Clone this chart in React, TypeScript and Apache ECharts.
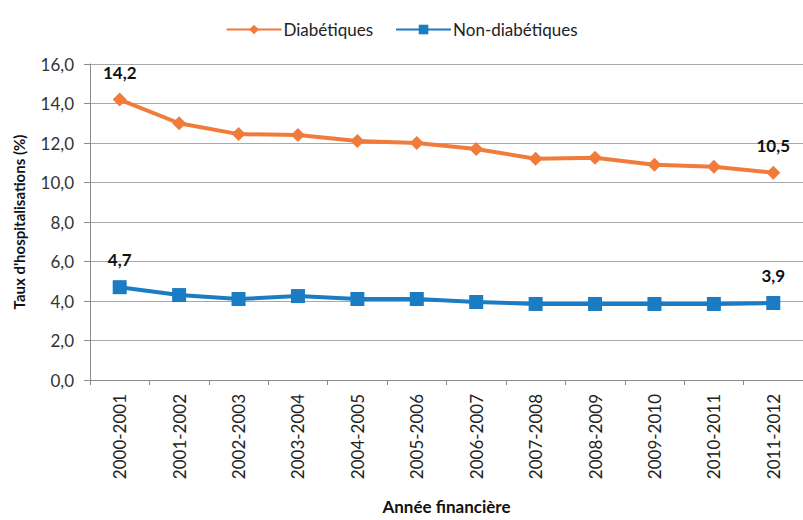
import React, { useEffect, useRef } from "react";
import * as echarts from "echarts";

const categories = [
  "2000-2001", "2001-2002", "2002-2003", "2003-2004", "2004-2005", "2005-2006",
  "2006-2007", "2007-2008", "2008-2009", "2009-2010", "2010-2011", "2011-2012",
];
const diabetiques = [14.2, 13.0, 12.45, 12.4, 12.1, 12.0, 11.7, 11.2, 11.25, 10.9, 10.8, 10.5];
const nonDiabetiques = [4.7, 4.3, 4.1, 4.25, 4.1, 4.1, 3.95, 3.85, 3.85, 3.85, 3.85, 3.9];
const yTicks = { min: 0, max: 16, interval: 2 };

const FONT = "Lato, 'Open Sans', sans-serif";
const ORANGE = "#F07B3A";
const BLUE = "#1A7CC3";

function fmt(v: number) {
  return v.toFixed(1).replace(".", ",");
}

export default function App() {
  const ref = useRef<HTMLDivElement>(null);
  useEffect(() => {
    if (!ref.current) return;
    const chart = echarts.init(ref.current, undefined, { renderer: "svg" });
    const endLabel = () => ({
      show: true,
      position: "top",
      distance: 12,
      fontFamily: FONT,
      fontWeight: "bold",
      fontSize: 17,
      color: "#111",
      formatter: (p: any) =>
        p.dataIndex === 0 || p.dataIndex === categories.length - 1 ? fmt(p.value) : "",
    });
    chart.setOption({
      animation: false,
      backgroundColor: "#fff",
      textStyle: { fontFamily: FONT },
      legend: {
        top: 16,
        left: "center",
        itemWidth: 55,
        itemHeight: 12,
        itemGap: 22,
        textStyle: { fontFamily: FONT, fontSize: 17, color: "#222", padding: [0, 0, 0, -3] },
        data: ["Diabétiques", "Non-diabétiques"],
      },
      grid: { left: 90, top: 64, width: 720, height: 328 },
      xAxis: {
        type: "category",
        data: categories,
        boundaryGap: true,
        axisLine: { show: true, lineStyle: { color: "#8a8a8a", width: 1 } },
        axisTick: { show: true, length: 5, lineStyle: { color: "#8a8a8a" } },
        axisLabel: {
          rotate: 90,
          margin: 14,
          fontFamily: FONT,
          fontSize: 17,
          color: "#222",
        },
        name: "Année financière",
        nameLocation: "middle",
        nameGap: 118,
        nameTextStyle: { fontFamily: FONT, fontWeight: "bold", fontSize: 17, color: "#111" },
      },
      yAxis: {
        type: "value",
        min: yTicks.min,
        max: yTicks.max,
        interval: yTicks.interval,
        axisLine: { show: true, lineStyle: { color: "#8a8a8a", width: 1 } },
        axisTick: { show: true, length: 6, lineStyle: { color: "#8a8a8a" } },
        splitLine: { show: true, lineStyle: { color: "#a8a8a8", width: 1.2 } },
        axisLabel: {
          margin: 16,
          fontFamily: FONT,
          fontSize: 17,
          color: "#333",
          formatter: (v: number) => fmt(v),
        },
        name: "Taux d'hospitalisations (%)",
        nameLocation: "middle",
        nameGap: 64,
        nameTextStyle: { fontFamily: FONT, fontWeight: "bold", fontSize: 15, color: "#111" },
      },
      series: [
        {
          name: "Diabétiques",
          type: "line",
          data: diabetiques,
          symbol: "diamond",
          symbolSize: 14,
          lineStyle: { color: ORANGE, width: 4 },
          itemStyle: { color: ORANGE },
          label: endLabel(),
        },
        {
          name: "Non-diabétiques",
          type: "line",
          data: nonDiabetiques,
          symbol: "rect",
          symbolSize: 14,
          lineStyle: { color: BLUE, width: 4 },
          itemStyle: { color: BLUE },
          label: endLabel(),
        },
      ],
    });
    return () => chart.dispose();
  }, []);
  return (
    <div
      ref={ref}
      style={{ position: "absolute", left: 0, top: 0, width: 803, height: 520 }}
    />
  );
}
